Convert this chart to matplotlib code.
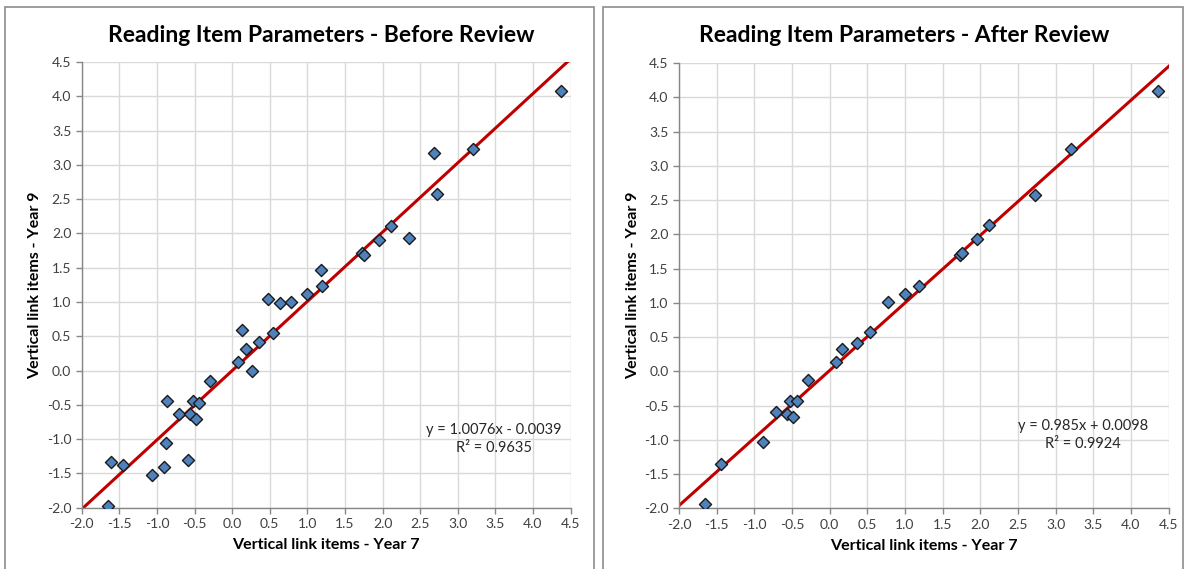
import numpy as np
import matplotlib
matplotlib.use("Agg")
from matplotlib import pyplot as plt
import matplotlib.patches as mpatches

plt.rcParams['font.family'] = ['Lato', 'DejaVu Sans']

# before review: year 7 vs year 9 item parameters
before_y7 = [-1.65, -1.61, -1.45, -1.06, -0.91, -0.88, -0.86, -0.71, -0.59, -0.56,
             -0.52, -0.48, -0.44, -0.29, 0.08, 0.13, 0.18, 0.27, 0.36, 0.48,
             0.55, 0.64, 0.78, 1.00, 1.19, 1.18, 1.73, 1.75, 1.95, 2.11,
             2.35, 2.68, 2.72, 3.21, 4.37]
before_y9 = [-1.97, -1.33, -1.37, -1.52, -1.40, -1.05, -0.44, -0.63, -1.30, -0.64,
             -0.45, -0.70, -0.47, -0.15, 0.13, 0.59, 0.31, 0.00, 0.41, 1.04,
             0.55, 0.99, 1.00, 1.11, 1.24, 1.47, 1.71, 1.69, 1.91, 2.11,
             1.93, 3.17, 2.57, 3.23, 4.07]

# after review
after_y7 = [-1.65, -1.44, -0.88, -0.71, -0.57, -0.53, -0.48, -0.44, -0.29, 0.08,
            0.17, 0.36, 0.54, 0.78, 1.00, 1.19, 1.73, 1.76, 1.95, 2.11,
            2.72, 3.21, 4.36]
after_y9 = [-1.94, -1.35, -1.03, -0.60, -0.62, -0.43, -0.67, -0.44, -0.13, 0.14,
            0.33, 0.42, 0.57, 1.01, 1.13, 1.25, 1.70, 1.73, 1.93, 2.13,
            2.58, 3.25, 4.09]

titles = ['Reading Item Parameters - Before Review', 'Reading Item Parameters - After Review']
fit_labels = [('y = 1.0076x - 0.0039', 'R² = 0.9635'), ('y = 0.985x + 0.0098', 'R² = 0.9924')]
ticks = np.arange(-2.0, 4.51, 0.5)

fig = plt.figure(figsize=(11.87, 5.69), dpi=100)
W, H = 1187, 569

# panel frames
for x0, x1 in [(5, 594), (603, 1183)]:
    fig.patches.append(mpatches.Rectangle((x0 / W, -0.02), (x1 - x0) / W, (H - 7) / H + 0.02,
                                          transform=fig.transFigure, fill=False,
                                          edgecolor='#8c8c8c', linewidth=1.2))

axes_pos = [[81.7 / W, 61.3 / H, 488.8 / W, 445.7 / H],
            [679 / W, 60.7 / H, 489.6 / W, 445.2 / H]]
title_x = [321, 904]
# text positions (pixels) for the fit annotation
ann_x = [494, 1083]
ann_y = [430, 426]

for k, (xs, ys) in enumerate([(before_y7, before_y9), (after_y7, after_y9)]):
    ax = fig.add_axes(axes_pos[k])
    ax.set_xlim(-2.0, 4.5)
    ax.set_ylim(-2.0, 4.5)
    ax.set_xticks(ticks)
    ax.set_yticks(ticks)
    ax.set_xticklabels(['%.1f' % t for t in ticks])
    ax.set_yticklabels(['%.1f' % t for t in ticks])
    ax.grid(True, color='#d9d9d9', linewidth=1.0)
    ax.set_axisbelow(True)
    for s in ['top', 'right']:
        ax.spines[s].set_visible(False)
    for s in ['left', 'bottom']:
        ax.spines[s].set_color('#868686')
        ax.spines[s].set_linewidth(1.0)
    ax.tick_params(colors='#868686', labelcolor='#404040', labelsize=10, length=4, width=1)

    # trend line from least squares fit
    m, c = np.polyfit(xs, ys, 1)
    lx = np.array([-2.0, 4.6])
    ax.plot(lx, m * lx + c, color='#c00000', linewidth=2.2, zorder=2)

    ax.scatter(xs, ys, marker='D', s=38, facecolor='#4f81bd', edgecolor='#1a1a1a',
               linewidth=1.0, zorder=3)

    ax.set_xlabel('Vertical link items - Year 7', fontsize=11.5, fontweight='bold', labelpad=6)
    ax.set_ylabel('Vertical link items - Year 9', fontsize=11.5, fontweight='bold', labelpad=3)

    fig.text(title_x[k] / W, 1 - 35 / H, titles[k], ha='center', va='center',
             fontsize=16.5, fontweight='bold')

    fig.text(ann_x[k] / W, 1 - ann_y[k] / H, fit_labels[k][0], ha='center', va='center',
             fontsize=10.5, color='#262626')
    fig.text(ann_x[k] / W, 1 - (ann_y[k] + 18) / H, fit_labels[k][1], ha='center', va='center',
             fontsize=10.5, color='#262626')

plt.savefig('out.png', dpi=100)
